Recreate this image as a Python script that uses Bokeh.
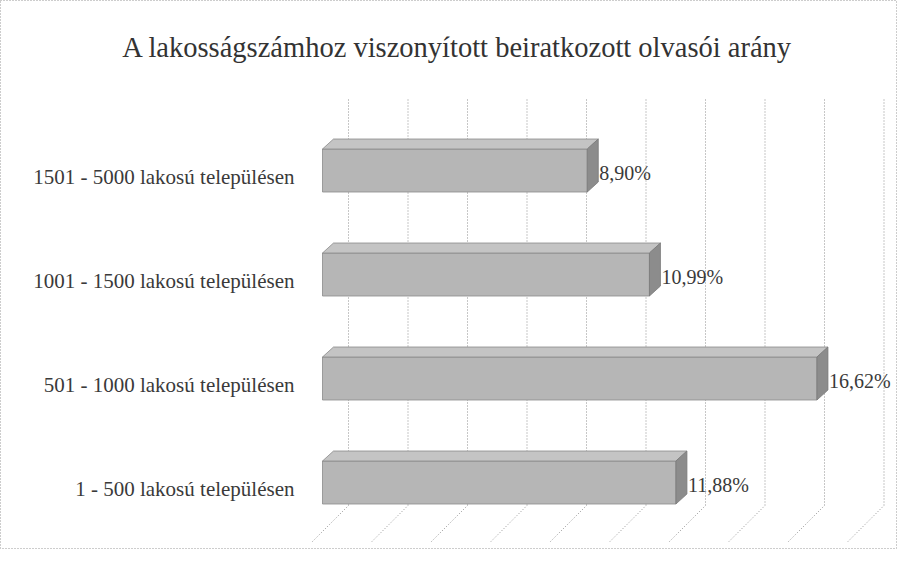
from bokeh.plotting import figure
from bokeh.models import Range1d, ColumnDataSource, Label
from bokeh.core.properties import value
from bokeh.embed import file_html
from bokeh.resources import INLINE

# ---- data ----
categories = ["1 - 500 lakosú településen", "501 - 1000 lakosú településen",
              "1001 - 1500 lakosú településen", "1501 - 5000 lakosú településen"]
values = [11.88, 16.62, 10.99, 8.90]
grid_ticks = [0, 2, 4, 6, 8, 10, 12, 14, 16, 18]
title_text = "A lakosságszámhoz viszonyított beiratkozott olvasói arány"

# ---- geometry (style) ----
W, H = 897, 549
PX = 29.75          # pixels per percent
X0 = 322            # pixel of 0 %
RY = 104            # pixels per row
Y0 = 67             # pixel (from bottom) of row 0 centre
FONT = "Liberation Serif"

def dxp(px):
    return px / PX

def dyp(px):
    return px / RY

p = figure(width=W, height=H, output_backend="svg", toolbar_location=None,
           x_axis_location=None, y_axis_location=None,
           x_range=Range1d(-X0 / PX, (W - X0) / PX),
           y_range=Range1d(-Y0 / RY, (H - Y0) / RY),
           min_border=0, background_fill_color="white", border_fill_color="white")
p.grid.visible = False
p.outline_line_color = "#9a9a9a"
p.outline_line_dash = "1 2"
p.outline_line_width = 1

# back wall + floor grid lines
bx = dxp(26)
top_y = dyp((H - 99) - Y0)
bend_y = dyp((H - 505) - Y0)
end_y = dyp((H - 542) - Y0)
gx, gy = [], []
for t in grid_ticks:
    gx.append([t + bx, t + bx, t + bx - dxp(37)])
    gy.append([top_y, bend_y, end_y])
p.multi_line(gx, gy, line_color="#8f8f8f", line_width=1, line_dash="1 2")

# 3D bars
h = dyp(21.5)
ddx, ddy = dxp(11), dyp(10)
rows = list(range(len(values)))
front_x, front_y, top_x, top_y_, side_x, side_y = [], [], [], [], [], []
for r, v in zip(rows, values):
    front_x.append([0, v, v, 0])
    front_y.append([r - h, r - h, r + h, r + h])
    top_x.append([0, ddx, v + ddx, v])
    top_y_.append([r + h, r + h + ddy, r + h + ddy, r + h])
    side_x.append([v, v + ddx, v + ddx, v])
    side_y.append([r - h, r - h + ddy, r + h + ddy, r + h])
p.patches(front_x, front_y, fill_color="#b6b6b6", line_color="#8a8a8a", line_width=0.8)
p.patches(top_x, top_y_, fill_color="#c4c4c4", line_color="#8a8a8a", line_width=0.8)
p.patches(side_x, side_y, fill_color="#8c8c8c", line_color="#7a7a7a", line_width=0.8)

# value labels
lab_src = ColumnDataSource(dict(
    x=[v + ddx + dxp(1) for v in values],
    y=[r - dyp(2) for r in rows],
    t=[("%.2f" % v).replace(".", ",") + "%" for v in values]))
p.text(x="x", y="y", text="t", source=lab_src, text_font=value(FONT),
       text_font_size="20px", text_color="#3a3a3a",
       text_align="left", text_baseline="middle")

# category labels
cat_src = ColumnDataSource(dict(
    x=[dxp(294 - X0)] * len(categories),
    y=[r - dyp(6) for r in rows],
    t=categories))
p.text(x="x", y="y", text="t", source=cat_src, text_font=value(FONT),
       text_font_size="21px", text_color="#3a3a3a",
       text_align="right", text_baseline="middle")

# title
p.add_layout(Label(x=457, y=H - 47, x_units="screen", y_units="screen",
                   text=title_text, text_font=FONT, text_font_size="28.5px",
                   text_color="#333333", text_align="center", text_baseline="middle"))

open("out.html", "w").write(file_html(p, INLINE))
